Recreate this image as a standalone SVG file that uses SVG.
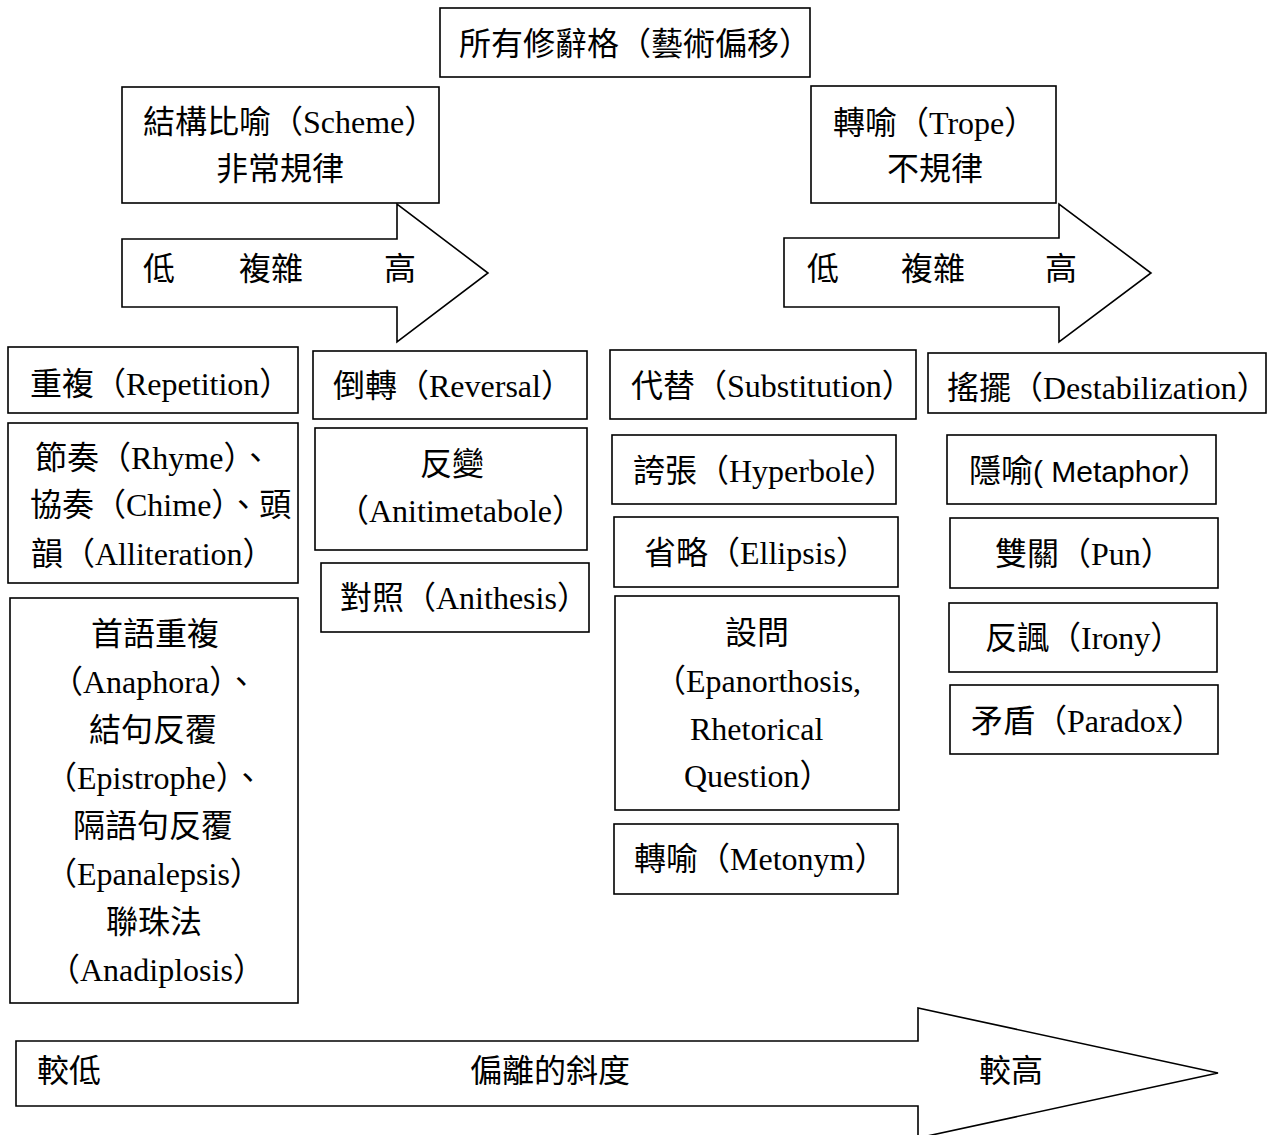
<svg xmlns="http://www.w3.org/2000/svg" width="1274" height="1135" viewBox="0 0 1274 1135">
<style>
.box{fill:#fff;stroke:#000;stroke-width:1.6}
.arr{fill:#fff;stroke:#000;stroke-width:1.6;stroke-linejoin:miter}
text{font-family:"Liberation Serif","Noto Sans CJK TC",serif;font-size:32px;fill:#000}
.sans{font-family:"Liberation Sans","Noto Sans CJK TC",sans-serif}
.c{text-anchor:middle}
</style>
<rect width="1274" height="1135" fill="#fff"/>
<g id="connectors">
  <g id="arrow-scheme">
    <polygon class="arr" points="122,239 397,239 397,204 488,273 397,342 397,307 122,307"/>
    <text x="143" y="280">低</text>
    <text x="239" y="280">複雜</text>
    <text x="384" y="280">高</text>
  </g>
  <g id="arrow-trope">
    <polygon class="arr" points="784,238 1059,238 1059,204 1151,273 1059,342 1059,307 784,307"/>
    <text x="807" y="280">低</text>
    <text x="901" y="280">複雜</text>
    <text x="1045" y="280">高</text>
  </g>
  <g id="arrow-deviation">
    <polygon class="arr" points="16,1041 918,1041 918,1008 1218,1073 918,1138 918,1106 16,1106"/>
    <text class="sans" x="37" y="1082">較低</text>
    <text class="sans" x="470" y="1082">偏離的斜度</text>
    <text class="sans" x="979" y="1082">較高</text>
  </g>
</g>
<g id="node-all">
  <rect class="box" x="440" y="8" width="370" height="69"/>
  <text x="459" y="55">所有修辭格（藝術偏移）</text>
</g>
<g id="node-scheme">
  <rect class="box" x="122" y="87" width="317" height="116"/>
  <text x="143" y="133">結構比喻（Scheme）</text>
  <text x="216" y="180">非常規律</text>
</g>
<g id="node-trope">
  <rect class="box" x="811" y="86" width="245" height="117"/>
  <text x="833" y="134">轉喻（Trope）</text>
  <text x="887" y="180">不規律</text>
</g>
<g id="node-repetition">
  <rect class="box" x="8" y="347" width="290" height="66"/>
  <text x="30" y="395">重複（Repetition）</text>
</g>
<g id="node-rhyme">
  <rect class="box" x="8" y="423" width="290" height="160"/>
  <text x="35" y="469">節奏（Rhyme）、</text>
  <text x="30" y="516" font-size="29">協奏（Chime）、頭</text>
  <text x="31" y="565">韻（Alliteration）</text>
</g>
<g id="node-anaphora">
  <rect class="box" x="10" y="598" width="288" height="405"/>
  <text class="c" x="155" y="645">首語重複</text>
  <text x="51" y="693">（Anaphora）、</text>
  <text class="c" x="153" y="741">結句反覆</text>
  <text x="45" y="789">（Epistrophe）、</text>
  <text class="c" x="153" y="837">隔語句反覆</text>
  <text x="45" y="885">（Epanalepsis）</text>
  <text class="c" x="154" y="933">聯珠法</text>
  <text x="48" y="981">（Anadiplosis）</text>
</g>
<g id="node-reversal">
  <rect class="box" x="313" y="351" width="274" height="68"/>
  <text x="333" y="397">倒轉（Reversal）</text>
</g>
<g id="node-antimetabole">
  <rect class="box" x="315" y="428" width="272" height="122"/>
  <text class="c" x="452" y="475">反變</text>
  <text x="337" y="522">（Anitimetabole）</text>
</g>
<g id="node-antithesis">
  <rect class="box" x="321" y="563" width="268" height="69"/>
  <text x="340" y="609">對照（Anithesis）</text>
</g>
<g id="node-substitution">
  <rect class="box" x="610" y="350" width="306" height="69"/>
  <text x="631" y="397">代替（Substitution）</text>
</g>
<g id="node-hyperbole">
  <rect class="box" x="612" y="435" width="284" height="69"/>
  <text x="633" y="482">誇張（Hyperbole）</text>
</g>
<g id="node-ellipsis">
  <rect class="box" x="614" y="517" width="284" height="70"/>
  <text x="644" y="564">省略（Ellipsis）</text>
</g>
<g id="node-question">
  <rect class="box" x="615" y="596" width="284" height="214"/>
  <text class="c" x="757" y="644">設問</text>
  <text x="654" y="692">（Epanorthosis,</text>
  <text x="690" y="740">Rhetorical</text>
  <text x="684" y="787">Question）</text>
</g>
<g id="node-metonym">
  <rect class="box" x="614" y="824" width="284" height="70"/>
  <text x="634" y="870">轉喻（Metonym）</text>
</g>
<g id="node-destabilization">
  <rect class="box" x="928" y="353" width="338" height="60"/>
  <text x="947" y="399">搖擺（Destabilization）</text>
</g>
<g id="node-metaphor">
  <rect class="box" x="947" y="435" width="269" height="69"/>
  <text x="969" y="482">隱喻<tspan class="sans" font-size="30">( Metaphor</tspan>）</text>
</g>
<g id="node-pun">
  <rect class="box" x="950" y="518" width="268" height="70"/>
  <text x="995" y="565">雙關（Pun）</text>
</g>
<g id="node-irony">
  <rect class="box" x="949" y="603" width="268" height="69"/>
  <text x="985" y="649">反諷（Irony）</text>
</g>
<g id="node-paradox">
  <rect class="box" x="950" y="685" width="268" height="69"/>
  <text x="971" y="732">矛盾（Paradox）</text>
</g>
</svg>
